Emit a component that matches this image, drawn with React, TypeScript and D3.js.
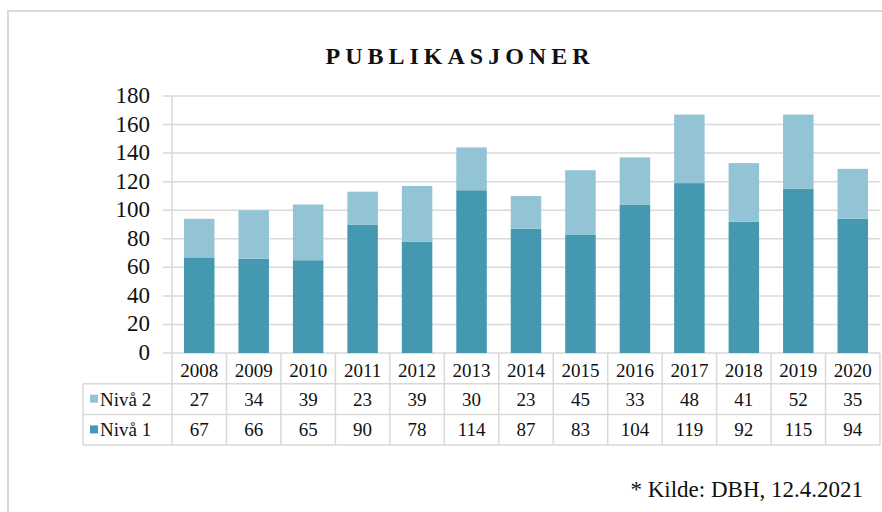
import React from "react";
import * as d3 from "d3";

const years = ["2008", "2009", "2010", "2011", "2012", "2013", "2014", "2015", "2016", "2017", "2018", "2019", "2020"];
const niva1 = [67, 66, 65, 90, 78, 114, 87, 83, 104, 119, 92, 115, 94];
const niva2 = [27, 34, 39, 23, 39, 30, 23, 45, 33, 48, 41, 52, 35];
const yTicks = [0, 20, 40, 60, 80, 100, 120, 140, 160, 180];

const DARK = "#4499b0";
const LIGHT = "#93c4d5";
const GRID = "#d9d9d9";
const FONT = "Liberation Serif";

const App = () => {
  const width = 882;
  const height = 512;
  const left = 172;
  const right = 880;
  const top = 96;
  const bottom = 353;
  const rowH = 30.7;
  const tableLeft = 83;

  const x = d3.scaleBand().domain(years).range([left, right]);
  const y = d3.scaleLinear().domain([0, 180]).range([bottom, top]);
  const barW = x.bandwidth() * 0.56;

  const stacked = d3
    .stack<number>()
    .keys(["n1", "n2"])
    .value((i, k) => (k === "n1" ? niva1[i] : niva2[i]))(years.map((_, i) => i));

  const rows = [
    { label: "Nivå 2", color: LIGHT, values: niva2 },
    { label: "Nivå 1", color: DARK, values: niva1 },
  ];

  const row0 = bottom;
  const row1 = bottom + rowH;
  const row2 = bottom + rowH * 2;
  const row3 = bottom + rowH * 3;

  return (
    <svg width={width} height={height} style={{ position: "absolute", left: 0, top: 0, fontFamily: FONT }}>
      <rect x={0} y={0} width={width} height={height} fill="#fff" />
      <path d={`M8,${height}V11H${width}`} fill="none" stroke={GRID} strokeWidth={2} />

      <text x={460} y={64} textAnchor="middle" fontSize={24} fontWeight="bold" letterSpacing={5} fill="#111">
        PUBLIKASJONER
      </text>

      {yTicks.map((t) => (
        <g key={t}>
          <line x1={163} x2={right} y1={y(t)} y2={y(t)} stroke={GRID} strokeWidth={1.5} />
          <text x={150} y={y(t) + 7} textAnchor="end" fontSize={23} fill="#111">
            {t}
          </text>
        </g>
      ))}
      <line x1={left} x2={left} y1={top} y2={row3} stroke={GRID} strokeWidth={1.5} />

      {stacked.map((layer, li) => (
        <g key={layer.key} fill={li === 0 ? DARK : LIGHT}>
          {layer.map((d, i) => (
            <rect
              key={years[i]}
              x={(x(years[i]) as number) + (x.bandwidth() - barW) / 2}
              y={y(d[1])}
              width={barW}
              height={y(d[0]) - y(d[1])}
            />
          ))}
        </g>
      ))}

      {/* data table */}
      <g stroke={GRID} strokeWidth={1.5} fill="none">
        <line x1={tableLeft} x2={right} y1={row1} y2={row1} />
        <line x1={tableLeft} x2={right} y1={row2} y2={row2} />
        <line x1={tableLeft} x2={right} y1={row3} y2={row3} />
        <line x1={tableLeft} x2={tableLeft} y1={row1} y2={row3} />
        {years.map((yr) => (
          <line key={yr} x1={(x(yr) as number) + x.bandwidth()} x2={(x(yr) as number) + x.bandwidth()} y1={row0} y2={row3} />
        ))}
      </g>
      {years.map((yr) => (
        <text key={yr} x={(x(yr) as number) + x.bandwidth() / 2} y={row0 + 23.5} textAnchor="middle" fontSize={19} fill="#111">
          {yr}
        </text>
      ))}
      {rows.map((r, ri) => {
        const ry = row1 + rowH * ri;
        return (
          <g key={r.label}>
            <rect x={90} y={ry + 11} width={8} height={8} fill={r.color} />
            <text x={100} y={ry + 22} fontSize={19} fill="#111">
              {r.label}
            </text>
            {r.values.map((v, i) => (
              <text key={i} x={(x(years[i]) as number) + x.bandwidth() / 2} y={ry + 22} textAnchor="middle" fontSize={19} fill="#111">
                {v}
              </text>
            ))}
          </g>
        );
      })}

      <text x={863} y={497} textAnchor="end" fontSize={23} fill="#111">
        * Kilde: DBH, 12.4.2021
      </text>
    </svg>
  );
};

export default App;
